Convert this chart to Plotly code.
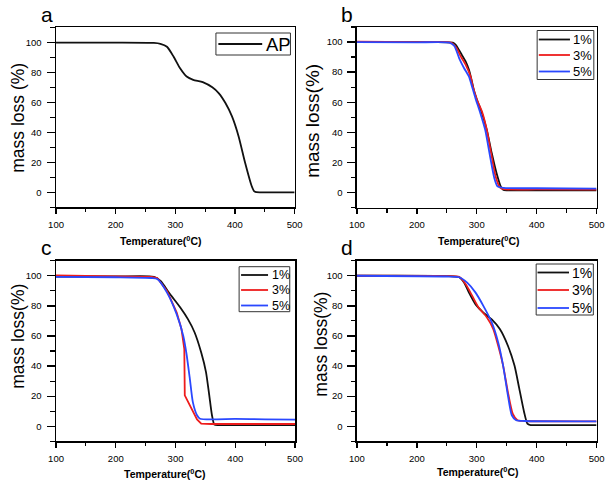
import plotly.graph_objects as go

# ---------------- data ----------------
# panel a : AP
a_T = [100, 200, 264, 275, 286, 297, 308, 319, 330, 346, 362, 373, 384, 395, 406, 417, 428, 432, 436, 450, 500]
a_AP = [99.8, 99.8, 99.6, 99.0, 97.0, 90.5, 82.7, 77.2, 75.0, 73.5, 70.0, 66.0, 59.5, 50.6, 37.4, 19.7, 4.2, 0.8, 0.05, 0.0, 0.0]

# panel b
b1_T = [100, 200, 260, 265.3, 273.5, 281.6, 287, 291.3, 295.1, 300.5, 308.7, 316.8, 325, 333, 340, 344, 350, 400, 500]
b1_v = [100, 99.9, 99.6, 98.0, 92.5, 87.0, 81.5, 74.8, 68.2, 61.5, 52.7, 41.6, 26.2, 12.9, 4.0, 1.8, 1.4, 1.4, 1.4]
b3_T = [100, 200, 257.2, 265.3, 273.5, 281.6, 289.7, 293.5, 300.5, 308.7, 316.8, 323.9, 331.4, 338.5, 345, 400, 500]
b3_v = [100.2, 100, 99.6, 96.5, 90.3, 84.8, 77.0, 70.4, 61.5, 53.8, 41.6, 26.2, 10.7, 3.4, 2.2, 2.0, 1.9]
b5_T = [100, 200, 254.5, 262.6, 270.7, 278.9, 287, 291.3, 297.8, 306, 314.1, 322.2, 329.3, 334.7, 345, 400, 500]
b5_v = [99.9, 99.8, 99.6, 97.4, 89.2, 82.6, 77.0, 71.5, 62.7, 52.7, 41.6, 24.0, 9.6, 4.0, 3.0, 2.8, 2.6]

# panel c
c1_T = [100, 200, 264, 275, 291, 308, 321, 332, 343, 351, 356.5, 361, 365, 372, 400, 500]
c1_v = [99.5, 99.5, 99.3, 96.5, 87.7, 78.9, 71.0, 62.3, 49.0, 36.0, 20.5, 7.3, 1.1, 0.8, 0.8, 0.8]
c3_T = [100, 175, 200, 260, 269.5, 286, 302, 310, 314.7, 315.5, 329, 336, 343, 360, 500]
c3_v = [100.2, 100.1, 99.6, 99.3, 98.5, 89.7, 75.5, 64.5, 51.3, 20.5, 9.5, 4.5, 1.8, 1.5, 1.5]
c5_T = [100, 200, 260, 269.5, 286, 302, 313, 318.4, 324, 329, 336, 341, 400, 450, 500]
c5_v = [99.2, 99.0, 98.5, 97.8, 88.6, 74.3, 60.0, 48.0, 31.5, 16.0, 7.3, 5.0, 4.9, 4.6, 4.4]

# panel d
d1_T = [100, 250, 270.7, 279, 287, 298, 311, 325, 338.5, 352, 363, 371, 379, 384.5, 390, 400, 500]
d1_v = [100, 99.8, 99.0, 95.4, 88.8, 81.0, 75.5, 71.0, 64.6, 53.5, 40.3, 25.0, 9.5, 1.8, 0.8, 0.8, 0.8]
d3_T = [100, 250, 270.7, 281.6, 292.5, 303, 317, 327.6, 335.8, 344, 352, 360, 368, 380, 500]
d3_v = [100, 99.8, 99.3, 94.3, 86.6, 78.9, 72.3, 64.6, 53.5, 40.3, 22.7, 8.4, 4.0, 3.5, 3.3]
d5_T = [100, 250, 270.7, 284, 298, 311, 325, 335.8, 344, 352, 358.5, 365.7, 380, 500]
d5_v = [100, 99.5, 99.0, 95.4, 88.8, 80.0, 69.0, 55.7, 40.3, 20.5, 7.3, 4.0, 3.5, 3.3]

series_names = ["1%", "3%", "5%"]
single_name = "AP"
panel_letters = ["a", "b", "c", "d"]
x_ticks = [100, 200, 300, 400, 500]

# ---------------- styling ----------------
W, H = 614, 485
FONT = "Arial, Liberation Sans, sans-serif"
BLACK, RED, BLUE = "#111111", "#ee1c1c", "#2a48ff"
COLORS = [BLACK, RED, BLUE]

def px_x(p):
    return p / W

def px_y(p):
    return 1 - p / H

# pixel boxes of the four plots: (left, right, top, bottom)
boxes = [(49.3, 294.3, 27.3, 207.3),
         (358.3, 604.3, 27.0, 207.5),
         (49.3, 294.7, 260.7, 441.3),
         (358.3, 604.3, 260.7, 441.3)]

fig = go.Figure()

def add(x, y, name, color, k, shape="spline"):
    xa = "x" if k == 1 else f"x{k}"
    ya = "y" if k == 1 else f"y{k}"
    fig.add_trace(go.Scatter(x=x, y=y, name=name, mode="lines",
                             line=dict(color=color, width=1.8, shape=shape, smoothing=0.6),
                             xaxis=xa, yaxis=ya, showlegend=False, hoverinfo="skip"))

add(a_T, a_AP, single_name, BLACK, 1)
add(b1_T, b1_v, series_names[0], BLACK, 2)
add(b3_T, b3_v, series_names[1], RED, 2)
add(b5_T, b5_v, series_names[2], BLUE, 2)
add(c1_T, c1_v, series_names[0], BLACK, 3)
add(c3_T, c3_v, series_names[1], RED, 3, shape="linear")
add(c5_T, c5_v, series_names[2], BLUE, 3)
add(d1_T, d1_v, series_names[0], BLACK, 4)
add(d3_T, d3_v, series_names[1], RED, 4)
add(d5_T, d5_v, series_names[2], BLUE, 4)

layout = dict(width=W, height=H, autosize=False,
              margin=dict(l=0, r=0, t=0, b=0, pad=0),
              paper_bgcolor="white", plot_bgcolor="white",
              font=dict(family=FONT, color="black"), showlegend=False,
              hovermode=False)

annotations = []
shapes = []
for i, (l, r, t, b) in enumerate(boxes):
    k = i + 1
    xs = "xaxis" if k == 1 else f"xaxis{k}"
    ys = "yaxis" if k == 1 else f"yaxis{k}"
    anc_x = "y" if k == 1 else f"y{k}"
    anc_y = "x" if k == 1 else f"x{k}"
    layout[xs] = dict(domain=[px_x(l), px_x(r)], anchor=anc_x, range=[100, 500],
                      tickvals=x_ticks, ticks="outside", ticklen=5, tickwidth=1.3,
                      tickcolor="black", showline=True, linecolor="black", linewidth=1.5,
                      mirror=True, showgrid=False, zeroline=False,
                      tickfont=dict(size=9.5, family=FONT), ticklabelstandoff=3,
                      minor=dict(dtick=50, tick0=100, ticks="outside", ticklen=3.5,
                                 tickwidth=1.2, tickcolor="black", showgrid=False))
    layout[ys] = dict(domain=[px_y(b), px_y(t)], anchor=anc_y, range=[-10, 110],
                      tick0=0, dtick=20, ticks="outside", ticklen=8, tickwidth=1.3,
                      tickcolor="black", showline=True, linecolor="black", linewidth=1.5,
                      mirror=True, showgrid=False, zeroline=False,
                      tickfont=dict(size=9.5, family=FONT), ticklabelstandoff=3,
                      minor=dict(dtick=10, tick0=0, ticks="outside", ticklen=4.5,
                                 tickwidth=1.2, tickcolor="black", showgrid=False))

# panel letters
letter_pos = [(40, 14), (348, 14), (40, 248), (348, 248)]
for L, (x, y) in zip(panel_letters, letter_pos):
    annotations.append(dict(text=L, x=px_x(x), y=px_y(y), xref="paper", yref="paper",
                            showarrow=False, font=dict(size=21, family=FONT),
                            xanchor="center", yanchor="middle"))

# y titles
ytitles = [("mass loss (%)", 10, 118, 17.5), ("mass loss(%)", 312, 121, 19),
           ("mass loss(%)", 10, 336, 17.5), ("mass loss(%)", 321, 344, 17.5)]
for txt, x, y, s in ytitles:
    annotations.append(dict(text=txt, x=px_x(x), y=px_y(y), xref="paper", yref="paper",
                            showarrow=False, textangle=-90, font=dict(size=s, family=FONT),
                            xanchor="center", yanchor="middle"))

# x titles
xtitles = [(157, 240), (484, 240), (161, 473), (483, 471)]
for x, y in xtitles:
    annotations.append(dict(text="<b>Temperature(<sup>0</sup>C)</b>", x=px_x(x), y=px_y(y),
                            xref="paper", yref="paper", showarrow=False,
                            font=dict(size=10.5, family=FONT),
                            xanchor="center", yanchor="middle"))

# legends (box, key lines, labels)
def legend(box, key_x0, key_x1, rows, names, colors, fsize):
    bx0, by0, bx1, by1 = box
    shapes.append(dict(type="rect", xref="paper", yref="paper",
                       x0=px_x(bx0), x1=px_x(bx1), y0=px_y(by1), y1=px_y(by0),
                       line=dict(color="#333333", width=1), fillcolor="white", layer="above"))
    for yy, nm, col in zip(rows, names, colors):
        shapes.append(dict(type="line", xref="paper", yref="paper",
                           x0=px_x(key_x0), x1=px_x(key_x1), y0=px_y(yy), y1=px_y(yy),
                           line=dict(color=col, width=1.8), layer="above"))
        annotations.append(dict(text=nm, x=px_x(key_x1 + 1.5), y=px_y(yy), xref="paper",
                                yref="paper", showarrow=False, xanchor="left",
                                yanchor="middle", font=dict(size=fsize, family=FONT)))

legend((213.5, 33, 290, 55), 216, 261, [44], [single_name], [BLACK], 18.5)
legend((543.3, 30.5, 601.5, 79.5), 545, 577, [39.5, 55, 71.5], series_names, COLORS, 13)
legend((237.3, 266.7, 289.3, 311.7), 239.3, 267, [275, 290, 305.5], series_names, COLORS, 12.5)
legend((542.3, 264, 601, 315), 543.7, 576, [272.5, 290, 308], series_names, COLORS, 14)

layout["annotations"] = annotations
layout["shapes"] = shapes

fig.update_layout(**layout)
fig.write_html("out.html",
               config={"displayModeBar": False, "staticPlot": True},
               post_script="document.body.style.margin='0';document.body.style.overflow='hidden';")
